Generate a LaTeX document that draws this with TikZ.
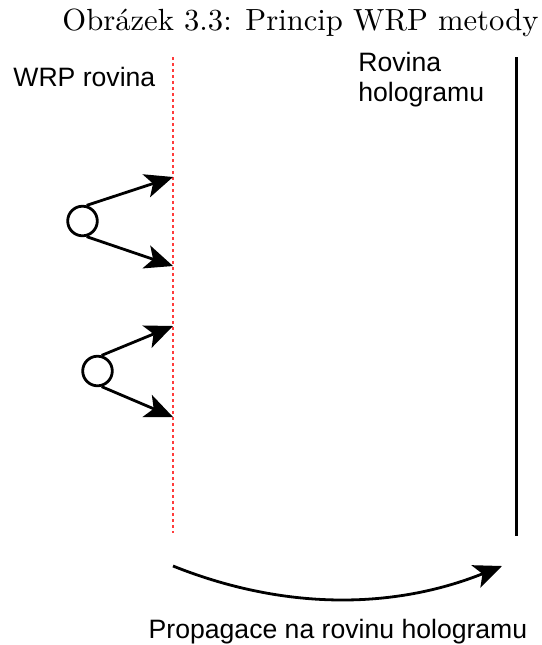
\documentclass[tikz,border=0pt]{standalone}
\usepackage{graphicx}
\usepackage{fontspec}
\newfontfamily\labelfont{Liberation Sans}
\usetikzlibrary{arrows.meta}
\definecolor{wrpred}{RGB}{255,60,60}
\begin{document}
\begin{tikzpicture}[x=0.5pt,y=-0.5pt,
  lab/.style={font=\labelfont\fontsize{13.3pt}{15pt}\selectfont, inner sep=0pt},
  point/.style={circle, draw, line width=1.4pt, minimum size=14.8pt, inner sep=0pt},
  ray/.style={line width=1.4pt, -{Stealth[length=14pt,width=12pt,inset=3.5pt]}},
  plane/.style={line width=1.5pt},
  wrpplane/.style={wrpred, line width=1.4pt, dash pattern=on 1.5pt off 1.5pt}]
\useasboundingbox (0,0) rectangle (542,645);

% caption
\node[anchor=base, inner sep=0pt] (title) at (300.5,30)
  {\resizebox{238pt}{!}{Obrázek 3.3: Princip WRP metody}};

% WRP plane (dotted) and hologram plane
\coordinate (wtop) at (173,57);
\coordinate (wbot) at (173,533);
\draw[wrpplane] (wtop) -- (wbot);
\coordinate (htop) at (517,57);
\coordinate (hbot) at (517,536);
\draw[plane] (htop) -- (hbot);

% labels
\node[lab, anchor=base west] (wrplab) at (13,86) {WRP rovina};
\node[lab, anchor=north west, align=left] (hololab) at (358,52) {Rovina\\hologramu};

% object points
\node[point] (c1) at (82.5,221) {};
\node[point] (c2) at (97.5,371) {};

% targets on the WRP plane
\coordinate (t1) at (173,177);
\coordinate (t2) at (173,266);
\coordinate (t3) at (173,326);
\coordinate (t4) at (173,417);

\draw[ray] (c1.75) -- (t1);
\draw[ray] (c1.-75) -- (t2);
\draw[ray] (c2.75) -- (t3);
\draw[ray] (c2.-75) -- (t4);

% propagation to the hologram plane
\coordinate (pa) at (173,566);
\coordinate (pb) at (502,566);
\draw[ray] (pa) .. controls (283,610) and (392,610) .. (pb);
\node[lab, anchor=base] (proplab) at (338,638) {Propagace na rovinu hologramu};
\end{tikzpicture}
\end{document}
